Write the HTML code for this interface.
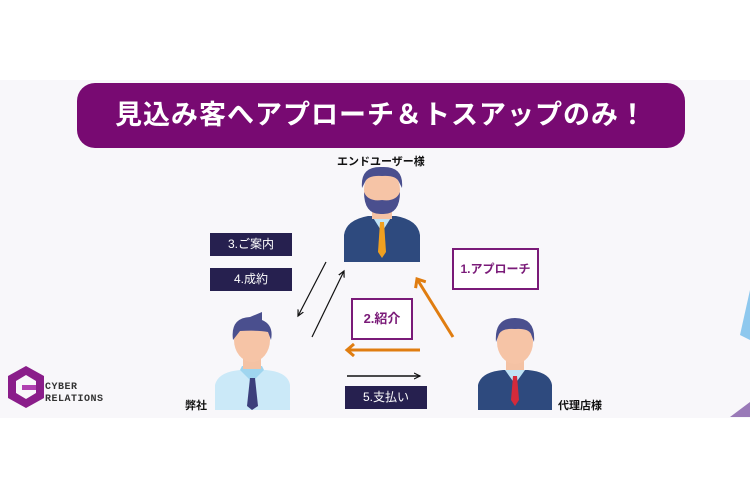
<!DOCTYPE html>
<html><head><meta charset="utf-8"><style>
body{margin:0;width:750px;height:500px;overflow:hidden;background:#fff;font-family:"Liberation Sans","Noto Sans CJK JP",sans-serif}
.bg{position:absolute;left:0;top:80px;width:750px;height:338px;background:#f8f7fa}
.ban{position:absolute;left:77px;top:83px;width:608px;height:65px;border-radius:18px;background:#780a72;color:#fff;font-size:27px;font-weight:bold;text-align:center;line-height:65px;letter-spacing:1px}
.nb{position:absolute;background:#26204f;color:#fff;font-size:12px;text-align:center}
.pb{position:absolute;background:#fff;border:2px solid #7a1a78;color:#7a1a78;font-size:13px;font-weight:bold;text-align:center;box-sizing:border-box}
.lb{position:absolute;font-size:11px;font-weight:bold;color:#111}
</style></head><body>
<div class="bg"></div>
<div class="ban">見込み客へアプローチ＆トスアップのみ！</div>
<div class="lb" style="left:337px;top:153px">エンドユーザー様</div>
<div class="lb" style="left:185px;top:397px">弊社</div>
<div class="lb" style="left:558px;top:397px">代理店様</div>
<div class="nb" style="left:210px;top:233px;width:82px;height:23px;line-height:23px">3.ご案内</div>
<div class="nb" style="left:210px;top:268px;width:82px;height:23px;line-height:23px">4.成約</div>
<div class="nb" style="left:345px;top:386px;width:82px;height:23px;line-height:23px">5.支払い</div>
<div class="pb" style="left:452px;top:248px;width:87px;height:42px;line-height:38px;font-size:12px">1.アプローチ</div>
<div class="pb" style="left:351px;top:298px;width:62px;height:42px;line-height:38px">2.紹介</div>
<svg width="750" height="500" style="position:absolute;left:0;top:0">
<defs>
<marker id="bk" markerWidth="8" markerHeight="8" refX="6" refY="4" orient="auto" markerUnits="userSpaceOnUse"><path d="M0,1 L6,4 L0,7" fill="none" stroke="#111" stroke-width="1.2"/></marker>
<marker id="or" markerWidth="14" markerHeight="14" refX="9" refY="7" orient="auto" markerUnits="userSpaceOnUse"><path d="M2,1 L9,7 L2,13" fill="none" stroke="#e07d10" stroke-width="3"/></marker>
</defs>
<line x1="326" y1="262" x2="298" y2="316" stroke="#111" stroke-width="1.2" marker-end="url(#bk)"/>
<line x1="312" y1="337" x2="344" y2="271" stroke="#111" stroke-width="1.2" marker-end="url(#bk)"/>
<line x1="347" y1="376" x2="420" y2="376" stroke="#111" stroke-width="1.5" marker-end="url(#bk)"/>
<line x1="453" y1="337" x2="417" y2="279" stroke="#e07d10" stroke-width="3" marker-end="url(#or)"/>
<line x1="420" y1="350" x2="347" y2="350" stroke="#e07d10" stroke-width="3" marker-end="url(#or)"/>
<g>
<path d="M344,262 L344,235 Q346,220 368,216 L396,216 Q418,220 420,235 L420,262Z" fill="#2e4a7e"/>
<path d="M372,216 L382,232 L392,216Z" fill="#bfe3f5"/>
<path d="M380,222 L384,222 L386,252 L382,258 L378,252Z" fill="#f0a020"/>
<rect x="372" y="205" width="20" height="14" fill="#f4c2a4"/>
<ellipse cx="382" cy="190" rx="18" ry="22" fill="#f6c4a6"/>
<path d="M364,192 Q364,215 382,214 Q400,215 400,192 Q396,202 382,200 Q368,202 364,192Z" fill="#4a4f8e"/>
<path d="M362,188 Q360,166 382,167 Q404,166 402,188 L399,182 Q396,175 382,176 Q368,175 365,182Z" fill="#4a4f8e"/>
</g>
<g>
<path d="M215,410 L215,385 Q218,372 240,370 L266,370 Q288,372 290,385 L290,410Z" fill="#cbe9f8"/>
<path d="M240,370 L252,382 L264,370 L262,366 L242,366Z" fill="#9fd5ef"/>
<path d="M250,378 L255,378 L258,406 L252,410 L247,406Z" fill="#3c3f7c"/>
<rect x="243" y="355" width="18" height="14" fill="#f4c2a4"/>
<ellipse cx="252" cy="340" rx="18" ry="22" fill="#f6c4a6"/>
<path d="M233,340 Q230,318 250,317 L262,312 L262,320 Q274,325 271,340 L268,332 Q258,330 240,331 Z" fill="#4a4f8e"/>
</g>
<g>
<path d="M478,410 L478,385 Q481,372 503,370 L528,370 Q550,372 552,385 L552,410Z" fill="#2e4a7e"/>
<path d="M505,370 L515,384 L525,370Z" fill="#bfe3f5"/>
<path d="M513,376 L517,376 L519,400 L515,406 L511,400Z" fill="#d42a3a"/>
<rect x="506" y="356" width="18" height="14" fill="#f4c2a4"/>
<ellipse cx="515" cy="342" rx="18" ry="22" fill="#f6c4a6"/>
<path d="M496,342 Q494,318 515,318 Q536,318 534,342 L531,334 Q528,328 515,329 Q502,328 499,334Z" fill="#4a4f8e"/>
</g>
<path d="M8,376 L26,366 L44,376 L44,398 L26,408 L8,398Z" fill="#8a1d8a"/>
<path d="M16,381 L26,375 L36,381 L36,393 L26,399 L16,393Z" fill="#f8f7fa"/>
<path d="M22,385 L36,385 L36,390 L22,390Z" fill="#b040b0"/>
<text x="45" y="389" font-family="Liberation Mono,monospace" font-size="10" font-weight="bold" fill="#333" letter-spacing="0.5">CYBER</text>
<text x="45" y="401" font-family="Liberation Mono,monospace" font-size="10" font-weight="bold" fill="#333" letter-spacing="0.5">RELATIONS</text>
<path d="M740,335 L750,290 L750,340Z" fill="#8ec8ee"/>
<path d="M730,417 L750,402 L750,417Z" fill="#9a7ab8"/>
</svg>
</body></html>
